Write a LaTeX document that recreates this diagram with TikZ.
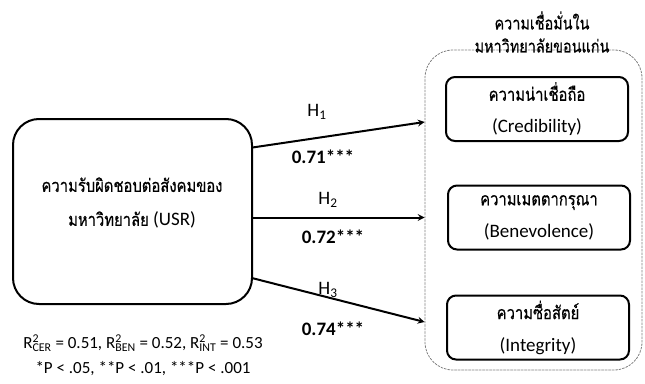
\documentclass[tikz,border=0pt]{standalone}
\usepackage{fontspec}
\setmainfont{Carlito}
\newfontfamily\thaifont[Script=Thai, Scale=0.95, FakeStretch=0.82, FakeBold=0.6]{Loma}
\usetikzlibrary{positioning}
\newcommand{\rsub}[1]{R\rlap{\textsuperscript{2}}\textsubscript{#1}}
\begin{document}
\begin{tikzpicture}[x=1pt, y=-1pt, font=\fontsize{19}{23}\selectfont, line join=round, line cap=round, >=stealth,
	usrbox/.style={draw, line width=2pt, rounded corners=26pt, minimum width=239pt, minimum height=185pt},
	dimbox/.style={draw, line width=2pt, rounded corners=9pt, minimum width=182pt, minimum height=64pt, align=center},
	trustframe/.style={draw=gray, dash pattern=on 2pt off 1.5pt, line width=0.8pt, rounded corners=28pt, minimum width=217pt, minimum height=320pt},
	hyparrow/.style={->, line width=2pt},
	coef/.style={font=\fontsize{19}{23}\selectfont\bfseries},
	notetext/.style={font=\fontsize{17}{20}\selectfont}]
	\useasboundingbox (0,0) rectangle (645,383);
	% left construct
	\node[usrbox] (usr) at (132.5,211.5) {};
	\node[align=center] (usrtext) at (132,203) {{\thaifont ความรับผิดชอบต่อสังคมของ}\\[11pt]{\thaifont มหาวิทยาลัย} (USR)};
	% trust frame and dimensions
	\node[trustframe] (trust) at (533.5,210) {};
	\node[align=center, font=\fontsize{18.5}{20}\selectfont\thaifont] (trusttitle) at (542,32) {ความเชื่อมั่นใน\\[3pt]มหาวิทยาลัยขอนแก่น};
	\node[dimbox] (cred) at (537,109) {{\thaifont ความน่าเชื่อถือ}\\[9pt](Credibility)};
	\node[dimbox] (benev) at (539,217.5) {{\thaifont ความเมตตากรุณา}\\[9pt](Benevolence)};
	\node[dimbox] (integ) at (538,327.5) {{\thaifont ความซื่อสัตย์}\\[9pt](Integrity)};
	% paths
	\draw[hyparrow] (usr.28) -- ([yshift=88pt]trust.west);
	\draw[hyparrow] (usr.east |- benev) -- (trust.west |- benev);
	\draw[hyparrow] (usr.-29) -- ([yshift=-112pt]trust.west);
	\node (h1) at (317,112) {H\textsubscript{1}};
	\node[coef] (b1) at (323,157) {0.71***};
	\node (h2) at (328,200) {H\textsubscript{2}};
	\node[coef] (b2) at (333,237) {0.72***};
	\node (h3) at (328,290) {H\textsubscript{3}};
	\node[coef] (b3) at (333,329) {0.74***};
	% notes
	\node[notetext] (rsq) at (143,343) {\rsub{CER} = 0.51, \rsub{BEN} = 0.52, \rsub{INT} = 0.53};
	\node[notetext] (sig) at (143,369) {*P < .05, **P < .01, ***P < .001};
\end{tikzpicture}
\end{document}
